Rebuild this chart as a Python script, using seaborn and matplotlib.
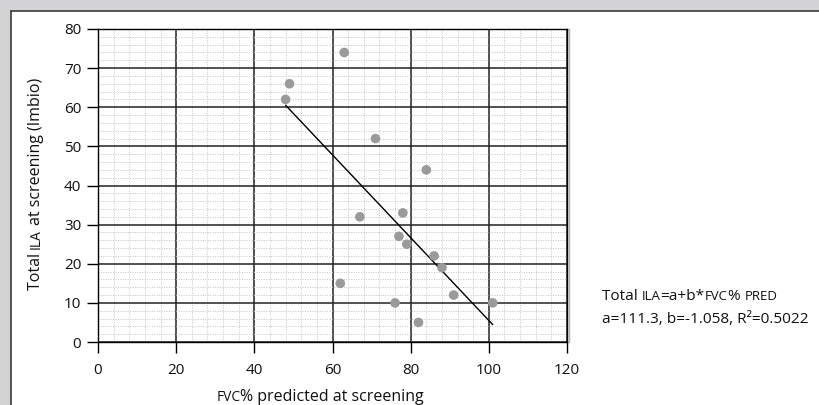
import numpy as np
import pandas as pd
import matplotlib
matplotlib.use("Agg")
import matplotlib.pyplot as plt
from matplotlib.patches import Rectangle
from matplotlib.lines import Line2D
from matplotlib.ticker import MultipleLocator
from matplotlib.font_manager import FontProperties, findfont
from matplotlib.ft2font import FT2Font
import seaborn as sns

# FVC % predicted vs. total ILA score at screening
fvc_pred = [48, 49, 63, 71, 84, 67, 78, 77, 79, 86, 88, 62, 76, 91, 101, 82]
total_ila = [62, 66, 74, 52, 44, 32, 33, 27, 25, 22, 19, 15, 10, 12, 10, 5]

# linear fit: Total ILA = a + b * FVC% pred
fit_a = 111.3
fit_b = -1.058
fit_r2 = 0.5022

x_ticks = [0, 20, 40, 60, 80, 100, 120]
y_ticks = [0, 10, 20, 30, 40, 50, 60, 70, 80]

sns.set_theme(style="white")
FONT = "Open Sans"
plt.rcParams["font.family"] = [FONT, "DejaVu Sans"]

W, H, DPI = 819, 405, 100
fig = plt.figure(figsize=(W / DPI, H / DPI), dpi=DPI)
fig.patch.set_facecolor("#d3d3d5")


def fx(px):
    return px / W


def fy(py):
    return (H - py) / H


# white page with a dark edge on top and left
fig.patches.append(Rectangle((fx(11), 0), 1, fy(11), transform=fig.transFigure,
                             facecolor="white", edgecolor="none", zorder=-2))
fig.lines.append(Line2D([fx(11), fx(11)], [0, fy(11)], transform=fig.transFigure,
                        color="#3a3a3a", lw=1.2, zorder=-1))
fig.lines.append(Line2D([fx(11), 1], [fy(11), fy(11)], transform=fig.transFigure,
                        color="#3a3a3a", lw=1.2, zorder=-1))
# faint shadow along the right edge of the plotting frame
fig.lines.append(Line2D([fx(568.5), fx(568.5)], [fy(342), fy(29)],
                        transform=fig.transFigure, color="#b0b0b0", lw=1.0,
                        zorder=-1))

ax = fig.add_axes([fx(98), fy(342), (567 - 98) / W, (342 - 29) / H])
ax.set_facecolor("white")

df = pd.DataFrame({"fvc": fvc_pred, "ila": total_ila})
sns.scatterplot(data=df, x="fvc", y="ila", color="#9a9a9a", s=48,
                edgecolor="none", linewidth=0, ax=ax, zorder=3)

fit_x = np.array([min(fvc_pred), max(fvc_pred)], dtype=float)
fit_df = pd.DataFrame({"x": fit_x, "y": fit_a + fit_b * fit_x})
sns.lineplot(data=fit_df, x="x", y="y", color="black", lw=1.0, ax=ax, zorder=2)

ax.set_xlim(0, 120)
ax.set_ylim(0, 80)
ax.set_xticks(x_ticks)
ax.set_yticks(y_ticks)
ax.xaxis.set_minor_locator(MultipleLocator(4))
ax.yaxis.set_minor_locator(MultipleLocator(2))
ax.set_axisbelow(True)
ax.grid(which="major", color="#222222", lw=1.1)
ax.grid(which="minor", color="#c4c4c4", lw=0.7, ls=(0, (1, 1.5)))
ax.tick_params(which="major", direction="out", length=8, width=1.0,
               color="black", labelsize=11, bottom=True, left=True,
               labelcolor="#111111")
ax.tick_params(which="minor", length=0)
ax.tick_params(axis="x", pad=7)
ax.tick_params(axis="y", pad=4)
for sp in ax.spines.values():
    sp.set_color("black")
    sp.set_linewidth(1.0)
ax.set_xlabel("")
ax.set_ylabel("")

# advance widths straight from the font file, for runs of mixed-size text
_font = FT2Font(findfont(FontProperties(family=FONT)))


def advance(s, size):
    _font.set_size(size, DPI)
    return sum(_font.load_char(ord(c)).linearHoriAdvance for c in s) / 65536.0


def draw_run(segments, x0, y0, vertical=False, center=False, color="#111111"):
    """Draw a line of mixed-size text (for small caps) along one baseline.

    x0, y0 are pixel positions measured from the left / top of the figure.
    """
    total = sum(advance(s, sz) for s, sz in segments)
    if vertical:
        pos = (H - y0) - (total / 2 if center else 0)
    else:
        pos = x0 - (total / 2 if center else 0)
    for s, sz in segments:
        core = s.lstrip()
        p = pos + advance(s[:len(s) - len(core)], sz)
        if core.strip():
            if vertical:
                fig.text(fx(x0), p / H, core, fontsize=sz, rotation=90,
                         rotation_mode="anchor", ha="left", va="baseline",
                         color=color)
            else:
                fig.text(fx(p), fy(y0), core, fontsize=sz, ha="left",
                         va="baseline", color=color)
        pos += advance(s, sz)


LBL = 11.5
SC = LBL * 0.86
EQ = 11.1
EQSC = EQ * 0.86

# y axis label
draw_run([("Total ", LBL), ("ILA", SC), (" at screening (Imbio)", LBL)],
         40, 184, vertical=True, center=True)

# x axis label
draw_run([("FVC", SC), ("% predicted at screening", LBL)], 320, 401, center=True)

# regression equation beside the plot
draw_run([("Total ", EQ), ("ILA", EQSC), ("=a+b*", EQ), ("FVC", EQSC),
          ("% ", EQ), ("PRED", EQSC)], 602, 300)
draw_run([(f"a={fit_a}, b={fit_b}, R\u00b2={fit_r2}", EQ)], 602, 323)

fig.savefig("out.png", dpi=DPI, facecolor=fig.get_facecolor())
